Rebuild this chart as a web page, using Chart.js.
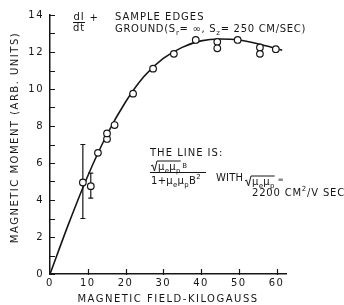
<!DOCTYPE html>
<html>
<head>
<meta charset="utf-8">
<script src="https://cdn.jsdelivr.net/npm/chart.js@4.4.1/dist/chart.umd.min.js"></script>
<style>
  html, body { margin: 0; padding: 0; background: #fff; }
  #wrap { width: 344px; height: 305px; position: relative; }
</style>
</head>
<body>
<div id="wrap"><canvas id="momentChart"></canvas></div>
<script>
// measured points (kilogauss, arb. units)
const fieldKG   = [8.7, 10.8, 12.7, 15.1, 15.1, 17.1, 22.0, 27.3, 32.8, 38.6, 44.3, 44.3, 49.7, 55.6, 55.6, 59.8];
const momentArb = [4.95, 4.75, 6.55, 7.3, 7.6, 8.05, 9.75, 11.1, 11.9, 12.65, 12.55, 12.2, 12.65, 12.25, 11.9, 12.15];

// error bars
const errField = [8.7, 10.8];
const errLow   = [3.0, 4.1];
const errHigh  = [7.0, 5.45];

// the drawn curve
const lineField  = [0, 5, 10, 15, 20, 25, 30, 35, 40, 45, 50, 55, 61.5];
const lineMoment = [0, 2.75, 5.3, 7.5, 9.3, 10.7, 11.65, 12.25, 12.6, 12.7, 12.65, 12.45, 12.1];

// axis ticks
const xTicks = [0, 10, 20, 30, 40, 50, 60];
const xMarked = [10, 20, 30, 40, 50, 60];
const yLabelled = [0, 2, 4, 6, 8, 10, 12, 14];

const INK = '#161616';
const FONT = '"DejaVu Sans", sans-serif';

// texte avec indices / exposants
function drawParts(ctx, x, y, parts, size) {
    size = size || 10;
    parts.forEach(p => {
        const kind = p[1] || '';
        ctx.font = (kind ? Math.round(size * 0.7) : size) + 'px ' + FONT;
        let dy = 0;
        if (kind === 'sub') dy = 3;
        if (kind === 'sup') dy = -5;
        ctx.fillText(p[0], x, y + dy);
        x += ctx.measureText(p[0]).width;
    });
    return x;
}

function drawRadical(ctx, x, y, x2) {
    // y = baseline of the text under the radical
    ctx.beginPath();
    ctx.moveTo(x, y - 4);
    ctx.lineTo(x + 1.5, y - 5);
    ctx.lineTo(x + 3.5, y + 1);
    ctx.lineTo(x + 6, y - 9);
    ctx.lineTo(x2, y - 9);
    ctx.stroke();
}

const spacingPlugin = {
    id: 'spacing',
    beforeDraw(chart) {
        chart.ctx.letterSpacing = '1.5px';
    }
};

// petits traits vers l'intérieur sur les axes
const tickMarkPlugin = {
    id: 'tickMarks',
    afterDraw(chart) {
        const ctx = chart.ctx;
        const xs = chart.scales.x, ys = chart.scales.y;
        const area = chart.chartArea;
        ctx.save();
        ctx.strokeStyle = INK;
        ctx.lineWidth = 1.2;
        ctx.beginPath();
        ys.ticks.forEach(t => {
            const py = Math.round(ys.getPixelForValue(t.value)) + 0.5;
            ctx.moveTo(area.left, py);
            ctx.lineTo(area.left + 5, py);
        });
        xMarked.forEach(v => {
            const px = Math.round(xs.getPixelForValue(v)) + 0.5;
            ctx.moveTo(px, area.bottom + 1);
            ctx.lineTo(px, area.bottom - 5);
        });
        ctx.stroke();
        ctx.restore();
    }
};

const errorBarPlugin = {
    id: 'errorBars',
    beforeDatasetsDraw(chart) {
        const ctx = chart.ctx;
        const xs = chart.scales.x, ys = chart.scales.y;
        ctx.save();
        ctx.strokeStyle = INK;
        ctx.lineWidth = 1.2;
        errField.forEach((f, i) => {
            const px = xs.getPixelForValue(f);
            const top = ys.getPixelForValue(errHigh[i]);
            const bot = ys.getPixelForValue(errLow[i]);
            ctx.beginPath();
            ctx.moveTo(px, top); ctx.lineTo(px, bot);
            ctx.moveTo(px - 2.5, top); ctx.lineTo(px + 2.5, top);
            ctx.moveTo(px - 2.5, bot); ctx.lineTo(px + 2.5, bot);
            ctx.stroke();
        });
        ctx.restore();
    }
};

const notesPlugin = {
    id: 'notes',
    afterDraw(chart) {
        const ctx = chart.ctx;
        ctx.save();
        ctx.fillStyle = INK;
        ctx.strokeStyle = INK;
        ctx.lineWidth = 1;
        ctx.textBaseline = 'alphabetic';
        ctx.letterSpacing = '0.8px';

        // dI/dt +
        ctx.textAlign = 'center';
        ctx.font = '10px ' + FONT;
        ctx.fillText('dI', 79, 20);
        ctx.fillText('dt', 79, 31);
        ctx.beginPath(); ctx.moveTo(73, 22.5); ctx.lineTo(85, 22.5); ctx.stroke();
        ctx.fillText('+', 94, 21);
        ctx.textAlign = 'left';
        ctx.letterSpacing = '1px';
        ctx.fillText('SAMPLE EDGES', 115, 20);
        ctx.letterSpacing = '0.7px';
        drawParts(ctx, 115, 31.5, [['GROUND(S'], ['r', 'sub'], ['= \u221E, S'], ['z', 'sub'], ['= 250 CM/SEC)']]);

        // THE LINE IS:
        ctx.letterSpacing = '1px';
        ctx.font = '10px ' + FONT;
        ctx.fillText('THE LINE IS:', 150, 156);
        ctx.letterSpacing = '0.3px';
        let end = drawParts(ctx, 158, 170, [['\u03BC'], ['e', 'sub'], ['\u03BC'], ['p', 'sub']]);
        drawRadical(ctx, 151, 170, end);
        ctx.font = '7px ' + FONT;
        ctx.fillText('B', end + 1.5, 168);
        ctx.beginPath(); ctx.moveTo(150, 172.5); ctx.lineTo(206, 172.5); ctx.stroke();
        drawParts(ctx, 151, 183.5, [['1+\u03BC'], ['e', 'sub'], ['\u03BC'], ['p', 'sub'], ['B'], ['2', 'sup']]);
        ctx.letterSpacing = '0.2px';
        ctx.font = '10px ' + FONT;
        ctx.fillText('WITH', 216, 180.5);
        ctx.letterSpacing = '0.3px';
        end = drawParts(ctx, 252, 185, [['\u03BC'], ['e', 'sub'], ['\u03BC'], ['p', 'sub']]);
        drawRadical(ctx, 245, 185, end);
        ctx.font = '7px ' + FONT;
        ctx.fillText('=', end + 3, 182);
        ctx.letterSpacing = '0.8px';
        drawParts(ctx, 252, 196, [['2200 CM'], ['2', 'sup'], ['/V SEC']], 10);
        ctx.restore();
    }
};

function createMomentChart() {
    const ctx = document.getElementById('momentChart');
    const scatterPts = fieldKG.map((f, i) => ({ x: f, y: momentArb[i] }));
    const linePts = lineField.map((f, i) => ({ x: f, y: lineMoment[i] }));

    const plainGrid = {
        drawOnChartArea: false,
        drawTicks: false
    };

    window.momentChart = new Chart(ctx, {
        type: 'scatter',
        data: {
            datasets: [{
                label: 'data',
                data: scatterPts,
                pointRadius: 3.3,
                pointBackgroundColor: '#fff',
                pointBorderColor: INK,
                pointBorderWidth: 1.2
            }, {
                type: 'line',
                label: 'theory',
                data: linePts,
                showLine: true,
                pointRadius: 0,
                borderColor: INK,
                borderWidth: 1.6,
                cubicInterpolationMode: 'monotone',
                fill: false
            }]
        },
        options: {
            responsive: true,
            maintainAspectRatio: false,
            animation: false,
            layout: { padding: { top: 15, right: 58, left: 0, bottom: 0 } },
            plugins: {
                legend: { display: false },
                tooltip: { enabled: false }
            },
            scales: {
                x: {
                    type: 'linear',
                    min: 0,
                    max: 62.5,
                    afterFit: s => { s.height = 31; },
                    afterBuildTicks: s => { s.ticks = xTicks.map(v => ({ value: v })); },
                    border: { display: true, color: INK, width: 1.5 },
                    grid: plainGrid,
                    ticks: {
                        color: INK,
                        font: { family: FONT, size: 10 },
                        padding: 3,
                        maxRotation: 0
                    },
                    title: {
                        display: true,
                        text: 'MAGNETIC FIELD-KILOGAUSS',
                        color: INK,
                        font: { family: FONT, size: 10 },
                        padding: { top: 0, bottom: 0 }
                    }
                },
                y: {
                    type: 'linear',
                    min: 0,
                    max: 14,
                    afterFit: s => { s.width = 50; },
                    border: { display: true, color: INK, width: 1.5 },
                    grid: plainGrid,
                    ticks: {
                        stepSize: 1,
                        color: INK,
                        font: { family: FONT, size: 10 },
                        padding: 6,
                        callback: v => yLabelled.includes(v) ? String(v) : ''
                    },
                    title: {
                        display: true,
                        text: '   MAGNETIC MOMENT (ARB. UNITS)',
                        color: INK,
                        font: { family: FONT, size: 10 },
                        padding: { top: 9, bottom: 0 }
                    }
                }
            }
        },
        plugins: [spacingPlugin, errorBarPlugin, tickMarkPlugin, notesPlugin]
    });
}

document.addEventListener('DOMContentLoaded', createMomentChart);
</script>
</body>
</html>
